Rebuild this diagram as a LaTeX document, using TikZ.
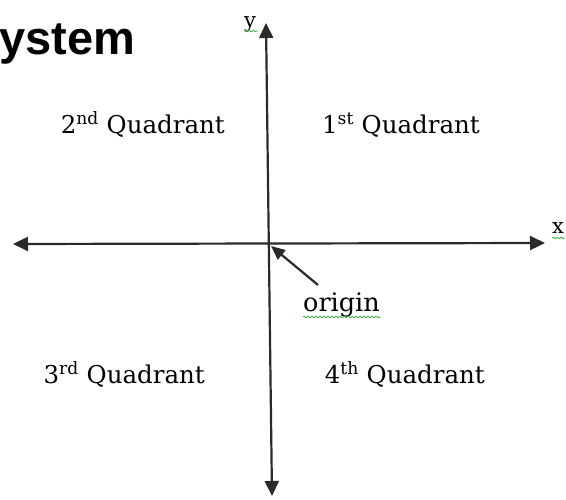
\documentclass[tikz,border=0pt]{standalone}
\usepackage{fontspec}
\setmainfont{DejaVu Serif}
\newfontfamily\titlefont{Liberation Sans}
\usetikzlibrary{arrows.meta,decorations.pathmorphing}
\definecolor{axisgray}{HTML}{2A2A2A}
\definecolor{squig}{HTML}{4CAF50}
\tikzset{
  bigtip/.tip={Triangle[length=15pt,width=14pt]},
  smalltip/.tip={Triangle[length=14pt,width=12pt]}
}
\begin{document}
\begin{tikzpicture}[x=1pt,y=-1pt,
  axisline/.style={line width=2.2pt, draw=axisgray},
  quad/.style={inner sep=0pt, anchor=base east, font=\fontsize{24.5}{28}\selectfont},
  axlabel/.style={inner sep=0pt, anchor=base west, font=\fontsize{21}{24}\selectfont},
  wavy/.style={draw=squig, line width=0.8pt, decorate, decoration={snake, amplitude=0.9pt, segment length=4pt}}
]
\useasboundingbox (0,0) rectangle (566,500);
% title fragment
\node[inner sep=0pt, anchor=base west, font=\titlefont\bfseries\fontsize{47}{50}\selectfont] (title) at (-1,55) {ystem};
% axes
\coordinate (xl) at (13,244);
\coordinate (xr) at (545,243);
\coordinate (yt) at (266,23);
\coordinate (yb) at (272,496);
\draw[axisline, bigtip-bigtip] (xl) -- (xr);
\draw[axisline, bigtip-bigtip] (yt) -- (yb);
% axis labels
\node[axlabel] (ylab) at (244,28) {y};
\node[axlabel] (xlab) at (552,234) {x};
\coordinate (yw1) at (244,31); \coordinate (yw2) at (258,31);
\coordinate (xw1) at (552,238); \coordinate (xw2) at (565,238);
\draw[wavy] (yw1) -- (yw2);
\draw[wavy] (xw1) -- (xw2);
% quadrant labels
\node[quad] (q2) at (225,134) {2\textsuperscript{nd} Quadrant};
\node[quad] (q1) at (480,134) {1\textsuperscript{st} Quadrant};
\node[quad] (q3) at (205,384) {3\textsuperscript{rd} Quadrant};
\node[quad] (q4) at (485,384) {4\textsuperscript{th} Quadrant};
% origin
\node[inner sep=0pt, anchor=base west, font=\fontsize{25.5}{30}\selectfont] (orig) at (303,312) {origin};
\coordinate (otail) at (318,285);
\coordinate (otip) at (271,246);
\draw[axisline, -smalltip] (otail) -- (otip);
\coordinate (ow1) at (303,317); \coordinate (ow2) at (381,317);
\draw[wavy] (ow1) -- (ow2);
\end{tikzpicture}
\end{document}
